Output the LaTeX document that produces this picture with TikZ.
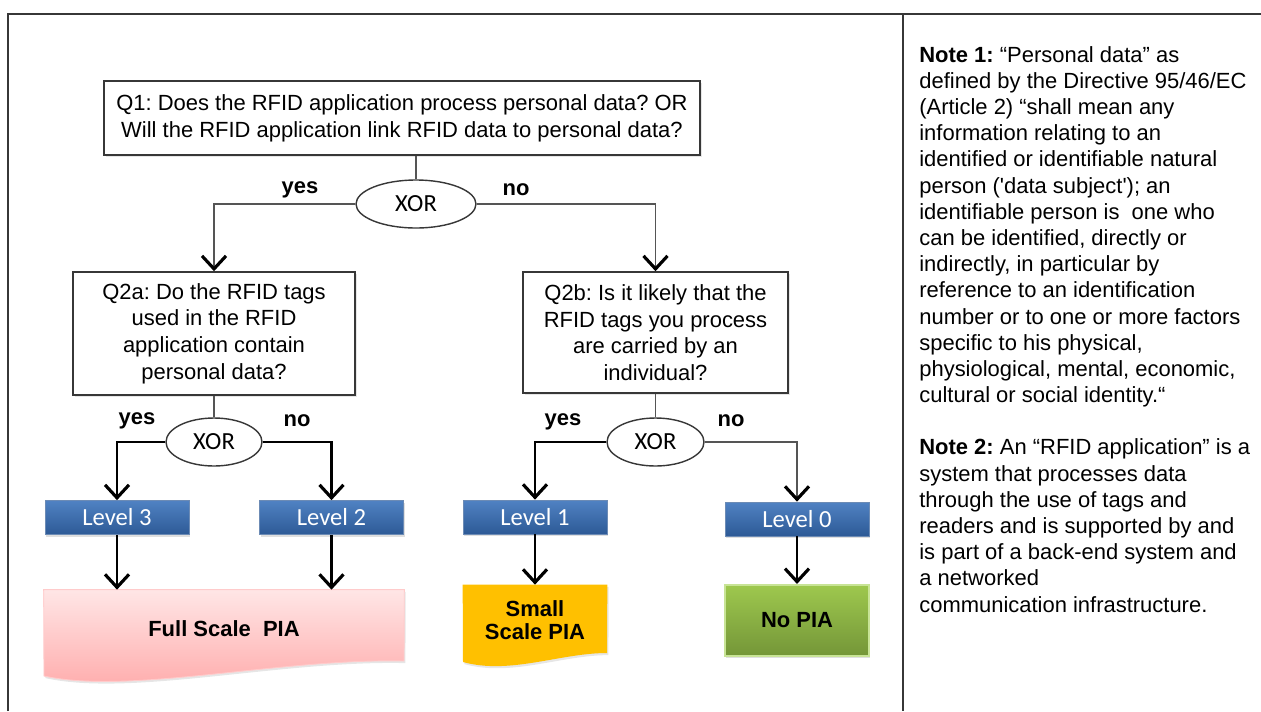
\documentclass[tikz,border=0pt]{standalone}
\usepackage{fontspec}
\setmainfont{Liberation Sans}
\newfontfamily\calibri{Carlito}
\usepackage{xcolor}
\definecolor{framegray}{RGB}{55,55,55}
\definecolor{linegray}{RGB}{85,85,85}
\definecolor{lvlblue}{RGB}{80,130,195}
\definecolor{lvldark}{RGB}{45,90,150}
\definecolor{pinktop}{RGB}{255,230,230}
\definecolor{pinkbot}{RGB}{255,168,168}
\definecolor{smallorange}{RGB}{255,192,0}
\definecolor{greentop}{RGB}{158,200,78}
\definecolor{greenbot}{RGB}{116,150,56}
\definecolor{greenedge}{RGB}{200,228,150}
\usetikzlibrary{shapes.geometric,arrows.meta,shadows,backgrounds}
\frenchspacing

\begin{document}
\begin{tikzpicture}[
    x=0.02cm, y=-0.02cm,
    font=\fontsize{12.5}{15.2}\selectfont,
    qbox/.style={rectangle, draw=framegray, line width=0.9pt, fill=white, align=center, inner sep=0pt, drop shadow={shadow xshift=1pt, shadow yshift=-1.2pt, opacity=0.2}},
    xorbox/.style={ellipse, draw=framegray, line width=0.8pt, fill=white, inner sep=0pt, minimum width=2.4cm, minimum height=0.96cm, font=\calibri\fontsize{14}{16}\selectfont},
    level/.style={rectangle, minimum width=2.88cm, minimum height=0.68cm, inner sep=0pt, top color=lvlblue, bottom color=lvldark, draw=lvldark!70, text=white, font=\calibri\fontsize{14}{16}\selectfont, drop shadow={shadow xshift=0.8pt, shadow yshift=-1.2pt, opacity=0.25}},
    result/.style={rectangle, minimum width=2.88cm, align=center, inner sep=0pt, font=\bfseries\fontsize{12.5}{13.5}\selectfont},
    answer/.style={font=\bfseries\fontsize{12.5}{15}\selectfont},
    frame/.style={draw=framegray, line width=1pt},
    link/.style={draw=linegray, line width=0.8pt},
    flow/.style={link, -{Straight Barb[length=2.6mm, width=4.8mm, line width=1.8pt, color=black]}},
    flowbold/.style={flow, draw=black, line width=1.5pt},
]
\useasboundingbox (0,0) rectangle (1261,711);

% Frame
\draw[frame] (8,711) -- (8,14) -- (1261,14);
\draw[frame] (903,14) -- (903,711);

% Question 1
\node[qbox, minimum width=11.92cm, minimum height=1.48cm] (q1) at (402,118) {Q1: Does the RFID application process personal data? OR\\ Will the RFID application link RFID data to personal data?};
\node[xorbox] (xor1) at (416,204) {XOR};
\node[answer] at (300,190) {yes};
\node[answer] at (516,190) {no};

% Question 2a / 2b
\node[qbox, minimum width=5.64cm, minimum height=2.46cm] (q2a) at (214,333.5) {Q2a: Do the RFID tags\\ used in the RFID\\ application contain\\ personal data?};
\node[qbox, minimum width=5.3cm, minimum height=2.42cm] (q2b) at (655.5,332.5) {Q2b: Is it likely that the\\ RFID tags you process\\ are carried by an\\ individual?};
\node[xorbox, minimum width=1.92cm] (xor2) at (214,442) {XOR};
\node[xorbox, minimum width=1.94cm] (xor3) at (655.5,442) {XOR};
\node[answer] at (137,421) {yes};
\node[answer] at (297,421) {no};
\node[answer] at (563,422) {yes};
\node[answer] at (731,421) {no};

% Levels
\node[level] (lvl3) at (117,517.5) {Level 3};
\node[level] (lvl2) at (331.5,517.5) {Level 2};
\node[level] (lvl1) at (535,517) {Level 1};
\node[level] (lvl0) at (797,519) {Level 0};

% Results
\node[result, minimum width=7.2cm, minimum height=1.56cm] (full) at (224,629) {Full Scale~~PIA};
\node[result, minimum height=1.4cm] (small) at (535,620) {Small\\ Scale PIA};
\node[result, minimum height=1.42cm, top color=greentop, bottom color=greenbot, draw=greenedge, line width=1.2pt, drop shadow={shadow xshift=0.8pt, shadow yshift=-1.2pt, opacity=0.25}] (nopia) at (797,620.5) {No PIA};
\begin{scope}[on background layer]
\shade[top color=pinktop, bottom color=pinkbot, draw=pinkbot!60, line width=0.5pt, drop shadow={shadow xshift=0.8pt, shadow yshift=-1.2pt, opacity=0.2}] (full.north west) -- (full.north east) -- (404,661) .. controls (280,658) and (130,695) .. (44,676) -- cycle;
\fill[smallorange, drop shadow={shadow xshift=0.8pt, shadow yshift=-1.2pt, opacity=0.2}] (small.north west) -- (small.north east) -- (607,653) .. controls (560,653) and (510,675) .. (463,662) -- cycle;
\end{scope}

% Arrows
\draw[link] (xor1.north) -- (xor1.north |- q1.south);
\draw[flow] (xor1.west) -| (q2a.north);
\draw[flow] (xor1.east) -| (q2b.north);
\draw[link] (xor2.north) -- (q2a.south);
\draw[flowbold] (xor2.west) -| (lvl3.north);
\draw[flowbold] (xor2.east) -| (lvl2.north);
\draw[link] (xor3.north) -- (q2b.south);
\draw[flowbold] (xor3.west) -| (lvl1.north);
\draw[flow] (xor3.east) -| (lvl0.north);
\draw[flowbold] (lvl3.south) -- (lvl3.south |- full.north);
\draw[flowbold] (lvl2.south) -- (lvl2.south |- full.north);
\draw[flowbold] (lvl1.south) -- (small.north);
\draw[flowbold] (lvl0.south) -- (nopia.north);

% Notes
\node[anchor=north west, align=left, inner sep=0pt, font=\fontsize{12.5}{14.9}\selectfont] (notes) at (919,46) {\textbf{Note 1:} “Personal data” as\\
defined by the Directive 95/46/EC\\
(Article 2) “shall mean any\\
information relating to an\\
identified or identifiable natural\\
person (\textquotesingle data subject\textquotesingle); an\\
identifiable person is~~one who\\
can be identified, directly or\\
indirectly, in particular by\\
reference to an identification\\
number or to one or more factors\\
specific to his physical,\\
physiological, mental, economic,\\
cultural or social identity.“\\[14.9pt]
\textbf{Note 2:} An “RFID application” is a\\
system that processes data\\
through the use of tags and\\
readers and is supported by and\\
is part of a back-end system and\\
a networked\\
communication infrastructure.};

\end{tikzpicture}
\end{document}
